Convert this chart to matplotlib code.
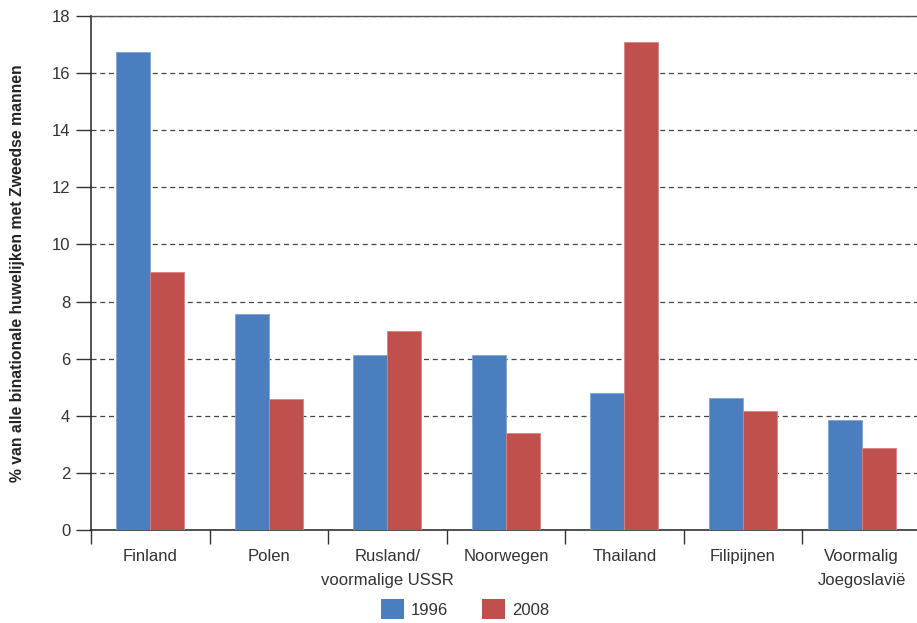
import numpy as np
import matplotlib
matplotlib.use("Agg")
import matplotlib.pyplot as plt
from matplotlib.patches import Patch

# --- données ---
landen = ["Finland", "Polen", "Rusland/\nvoormalige USSR", "Noorwegen",
          "Thailand", "Filipijnen", "Voormalig\nJoegoslavië"]
waarden_1996 = [16.75, 7.55, 6.12, 6.12, 4.78, 4.62, 3.85]
waarden_2008 = [9.05, 4.58, 6.98, 3.38, 17.1, 4.18, 2.87]
jaren = ["1996", "2008"]

kleur_1996 = "#4A7EBF"
kleur_2008 = "#C0504D"
tekst = "#333333"

plt.rcParams['font.family'] = ['Liberation Sans', 'DejaVu Sans']

fig = plt.figure(figsize=(9.17, 6.23), dpi=100)
ax = fig.add_axes([0.0992, 0.1493, 0.905, 0.825])

x = np.arange(len(landen))
w = 0.287
ax.bar(x - w / 2, waarden_1996, width=w, color=kleur_1996, edgecolor="#7FA6D6",
       linewidth=0.6, zorder=3)
ax.bar(x + w / 2, waarden_2008, width=w, color=kleur_2008, edgecolor="#D98582",
       linewidth=0.6, zorder=3)

ax.set_xlim(-0.5, len(landen) - 0.5)
ax.set_ylim(0, 18)
ax.set_yticks(np.arange(0, 19, 2))
ax.yaxis.grid(True, linestyle=(0, (4, 3)), color="#444444", linewidth=0.9, zorder=0)

# verdeelstreepjes tussen categorieën
ax.set_xticks(np.arange(-0.5, len(landen) - 0.4, 1.0))
ax.set_xticklabels([])
ax.set_xticks(x, minor=True)
ax.set_xticklabels(landen, minor=True, fontsize=12, color=tekst, linespacing=1.75)
ax.tick_params(axis="x", which="major", length=10, width=1, color="#333333", direction="out")
ax.tick_params(axis="x", which="minor", length=0, pad=14)
ax.tick_params(axis="y", length=11, width=1, color="#333333", labelsize=12,
               labelcolor=tekst, pad=4)

for s in ["left", "bottom"]:
    ax.spines[s].set_color("#222222")
    ax.spines[s].set_linewidth(1.1)
ax.spines["top"].set_color("#555555")
ax.spines["top"].set_linewidth(1.0)
ax.spines["right"].set_visible(False)

ax.set_ylabel("% van alle binationale huwelijken met Zweedse mannen",
              fontsize=11.3, fontweight="bold", color="#222222", labelpad=19)

handles = [Patch(facecolor=kleur_1996, label=jaren[0]),
           Patch(facecolor=kleur_2008, label=jaren[1])]
fig.legend(handles=handles, loc="lower center", bbox_to_anchor=(0.507, -0.018), ncol=2,
           frameon=False, fontsize=12, handlelength=1.4, handleheight=1.5,
           columnspacing=2.0, handletextpad=0.4, labelcolor=tekst)

fig.savefig("out.png", dpi=100)
